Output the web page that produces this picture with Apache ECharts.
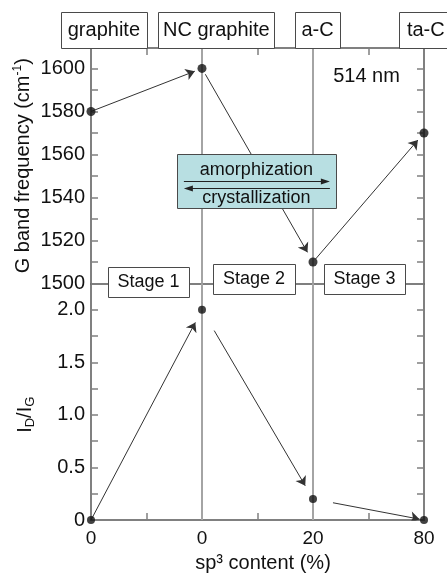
<!DOCTYPE html>
<html>
<head>
<meta charset="utf-8">
<script src="https://cdn.jsdelivr.net/npm/echarts@6/dist/echarts.min.js"></script>
<style>
  html, body { margin: 0; padding: 0; background: #fff; }
  #chart { width: 447px; height: 574px; }
</style>
</head>
<body>
<div id="chart"></div>
<script>
// Positions along the amorphization trajectory and their sp3 labels
const stagePositions = [0, 1, 2, 3];
const sp3Labels = ['0', '0', '20', '80'];
const phaseNames = ['graphite', 'NC graphite', 'a-C', 'ta-C'];
const stageNames = ['Stage 1', 'Stage 2', 'Stage 3'];
// G peak position (cm-1) at each point
const gPeak = [1580, 1600, 1510, 1570];
// I(D)/I(G) ratio at each point
const idIg = [0, 2.0, 0.2, 0];
// labelled ticks
const gTicks = [1500, 1520, 1540, 1560, 1580, 1600];
const ratioTicks = [0, 0.5, 1.0, 1.5, 2.0];

const FONT = '"Liberation Sans", Arial, sans-serif';
const INK = '#111';
const FRAME = '#808080';
const GUIDE = '#a4a4a4';
const ARROW = '#333';

// arrow trimming: [start fraction, end fraction] along each segment
const gArrowTrim = [[0, 0.935], [0.03, 0.95], [0.02, 0.945]];
const ratioArrowTrim = [[0, 0.94], [0.11, 0.93], [0.18, 0.96]];

function arrows(xs, ys, trims) {
  return trims.map(function (t, i) {
    const x0 = xs[i], y0 = ys[i], x1 = xs[i + 1], y1 = ys[i + 1];
    return {
      coords: [
        [x0 + t[0] * (x1 - x0), y0 + t[0] * (y1 - y0)],
        [x0 + t[1] * (x1 - x0), y0 + t[1] * (y1 - y0)]
      ]
    };
  });
}

function pairs(xs, ys) {
  return xs.map(function (x, i) { return [x, ys[i]]; });
}

const chart = echarts.init(document.getElementById('chart'), null, { renderer: 'canvas' });

const frameLine = { show: true, onZero: false, lineStyle: { color: FRAME, width: 2 } };
const frameTick = { show: true, inside: true, length: 7, lineStyle: { color: FRAME, width: 1.5 } };
const tickFont = { fontFamily: FONT, fontSize: 20, color: INK };

function xAxisDef(grid, position, extra) {
  return Object.assign({
    gridIndex: grid, type: 'value', min: 0, max: 3, interval: 0.5, position: position,
    axisLine: frameLine, axisTick: frameTick, axisLabel: { show: false },
    splitLine: { show: false }
  }, extra || {});
}

function yAxisDef(grid, position, min, max, interval, extra) {
  return Object.assign({
    gridIndex: grid, type: 'value', min: min, max: max, interval: interval, position: position,
    axisLine: frameLine, axisTick: frameTick, axisLabel: { show: false },
    splitLine: { show: false }
  }, extra || {});
}

const guideLines = {
  z: 1, symbol: 'none', silent: true, animation: false,
  label: { show: false },
  lineStyle: { color: GUIDE, width: 2, type: 'solid' },
  data: [{ xAxis: stagePositions[1] }, { xAxis: stagePositions[2] }]
};

const option = {
  animation: false,
  backgroundColor: '#fff',
  textStyle: { fontFamily: FONT },
  grid: [
    { left: 91, right: 23, top: 48, height: 235.5 },
    { left: 91, right: 23, top: 283.5, height: 236.5 }
  ],
  xAxis: [
    // divider between the two panels (1500 line)
    xAxisDef(0, 'bottom', {
      axisLine: { show: true, onZero: false, lineStyle: { color: '#555', width: 1.5 } },
      axisTick: { show: false }
    }),
    xAxisDef(0, 'top'),
    xAxisDef(1, 'bottom', {
      axisLabel: {
        show: true, margin: 9, fontSize: 19, fontFamily: FONT, color: INK,
        formatter: function (v) { return Number.isInteger(v) ? sp3Labels[v] : ''; }
      },
      name: 'sp³ content (%)', nameLocation: 'middle', nameGap: 33, nameMoveOverlap: false,
      nameTextStyle: { fontFamily: FONT, fontSize: 20, color: INK, padding: [0, 0, 0, 11] }
    })
  ],
  yAxis: [
    yAxisDef(0, 'left', 1500, 1609.5, 10, {
      axisLabel: Object.assign({
        show: true, margin: 6,
        formatter: function (v) { return gTicks.indexOf(v) >= 0 ? String(v) : ''; }
      }, tickFont),
      name: '{a|G band frequency (cm}{s|-1}{a|)}',
      nameLocation: 'middle', nameRotate: 90, nameGap: 57, nameMoveOverlap: false,
      nameTextStyle: {
        rich: {
          a: { fontFamily: FONT, fontSize: 20, color: INK, lineHeight: 22 },
          s: { fontFamily: FONT, fontSize: 12, color: INK, verticalAlign: 'top', lineHeight: 22 }
        }
      }
    }),
    yAxisDef(0, 'right', 1500, 1609.5, 10),
    yAxisDef(1, 'left', 0, 2.25, 0.25, {
      axisLabel: Object.assign({
        show: true, margin: 6,
        formatter: function (v) {
          if (ratioTicks.indexOf(v) < 0) return '';
          return v === 0 ? '0' : v.toFixed(1);
        }
      }, tickFont),
      name: '{a|I}{b|D}{a|/I}{b|G}',
      nameLocation: 'middle', nameRotate: 90, nameGap: 54, nameMoveOverlap: false,
      nameTextStyle: {
        padding: [0, 26, 0, 0],
        rich: {
          a: { fontFamily: FONT, fontSize: 20, color: INK, lineHeight: 24 },
          b: { fontFamily: FONT, fontSize: 13, color: INK, verticalAlign: 'bottom', lineHeight: 24 }
        }
      }
    }),
    yAxisDef(1, 'right', 0, 2.25, 0.25)
  ],
  series: [
    { type: 'scatter', xAxisIndex: 0, yAxisIndex: 0, data: [], markLine: guideLines, silent: true },
    { type: 'scatter', xAxisIndex: 2, yAxisIndex: 2, data: [], markLine: guideLines, silent: true },
    {
      type: 'lines', coordinateSystem: 'cartesian2d', xAxisIndex: 0, yAxisIndex: 0, z: 3,
      symbol: ['none', 'arrow'], symbolSize: [7, 9], silent: true,
      lineStyle: { color: ARROW, width: 1, opacity: 1, curveness: 0 },
      data: arrows(stagePositions, gPeak, gArrowTrim)
    },
    {
      type: 'lines', coordinateSystem: 'cartesian2d', xAxisIndex: 2, yAxisIndex: 2, z: 3,
      symbol: ['none', 'arrow'], symbolSize: [7, 9], silent: true,
      lineStyle: { color: ARROW, width: 1, opacity: 1, curveness: 0 },
      data: arrows(stagePositions, idIg, ratioArrowTrim)
    },
    {
      type: 'scatter', xAxisIndex: 0, yAxisIndex: 0, z: 4, clip: false, silent: true,
      symbol: 'circle', symbolSize: 9, itemStyle: { color: INK },
      data: pairs(stagePositions, gPeak)
    },
    {
      type: 'scatter', xAxisIndex: 2, yAxisIndex: 2, z: 4, clip: false, silent: true,
      symbol: 'circle', symbolSize: 8, itemStyle: { color: INK },
      data: pairs(stagePositions, idIg)
    }
  ]
};

chart.setOption(option);

// ---- annotation boxes, anchored in data space of the upper panel ----
const phaseBoxes = { x: [0.116, 1.129, 2.041, 3.07], w: [86, 116, 45, 66], h: 36 };
const stageBoxes = { x: [0.518, 1.468, 2.464], dy: [-1.5, -4.5, -4.5], w: [81, 82, 81], h: 30 };
const processBox = { x: 1.49, y: 1547.7, w: 159, h: 54 };
const laserNote = { x: 2.482, y: 1596.1, text: '514 nm' };

function px(x, y) { return chart.convertToPixel({ gridIndex: 0 }, [x, y]); }

const boxStyle = { fill: '#fff', stroke: '#4a4a4a', lineWidth: 1 };
const elements = [];

function labelBox(cx, cy, w, h, text, size, fill, textX) {
  elements.push({
    type: 'rect', z: 100,
    shape: { x: Math.round(cx - w / 2) + 0.5, y: Math.round(cy - h / 2) + 0.5, width: w, height: h },
    style: Object.assign({}, boxStyle, fill ? { fill: fill } : {})
  });
  if (text) {
    elements.push({
      type: 'text', z: 101, x: textX != null ? textX : cx, y: cy,
      style: { text: text, font: size + 'px ' + FONT, fill: INK, align: 'center', verticalAlign: 'middle' }
    });
  }
}

const topY = px(0, 1609.5)[1];
phaseNames.forEach(function (name, i) {
  const c = px(phaseBoxes.x[i], 1609.5);
  // last box runs off the right edge; keep its text next to the left border
  const tx = i === phaseNames.length - 1 ? c[0] - phaseBoxes.w[i] / 2 + 27 : null;
  labelBox(c[0], topY - phaseBoxes.h / 2, phaseBoxes.w[i], phaseBoxes.h, name, 20, null, tx);
});

stageNames.forEach(function (name, i) {
  const c = px(stageBoxes.x[i], 1500);
  labelBox(c[0], c[1] + stageBoxes.dy[i], stageBoxes.w[i], stageBoxes.h, name, 18);
});

// amorphization / crystallization box with opposing arrows
(function () {
  const c = px(processBox.x, processBox.y);
  const left = c[0] - processBox.w / 2, top = c[1] - processBox.h / 2;
  labelBox(c[0], c[1], processBox.w, processBox.h, null, 18, '#b8dfe2');
  elements.push({
    type: 'text', z: 101, x: c[0], y: top + 16,
    style: { text: 'amorphization', font: '18px ' + FONT, fill: INK, align: 'center', verticalAlign: 'middle' }
  });
  elements.push({
    type: 'text', z: 101, x: c[0], y: top + 44,
    style: { text: 'crystallization', font: '18px ' + FONT, fill: INK, align: 'center', verticalAlign: 'middle' }
  });
  const y1 = Math.round(top + 27) + 0.5, y2 = Math.round(top + 34) + 0.5;
  const x0 = left + 7, x1 = left + 153;
  elements.push({ type: 'line', z: 101, shape: { x1: x0, y1: y1, x2: x1 - 6, y2: y1 }, style: { stroke: '#222', lineWidth: 1.2 } });
  elements.push({ type: 'polygon', z: 101, shape: { points: [[x1, y1], [x1 - 9, y1 - 3], [x1 - 9, y1 + 3]] }, style: { fill: '#222' } });
  elements.push({ type: 'line', z: 101, shape: { x1: x0 + 6, y1: y2, x2: x1, y2: y2 }, style: { stroke: '#222', lineWidth: 1.2 } });
  elements.push({ type: 'polygon', z: 101, shape: { points: [[x0, y2], [x0 + 9, y2 - 3], [x0 + 9, y2 + 3]] }, style: { fill: '#222' } });
})();

(function () {
  const c = px(laserNote.x, laserNote.y);
  elements.push({
    type: 'text', z: 101, x: c[0], y: c[1],
    style: { text: laserNote.text, font: '20px ' + FONT, fill: INK, align: 'center', verticalAlign: 'middle' }
  });
})();

chart.setOption({ graphic: { elements: elements } });
</script>
</body>
</html>
